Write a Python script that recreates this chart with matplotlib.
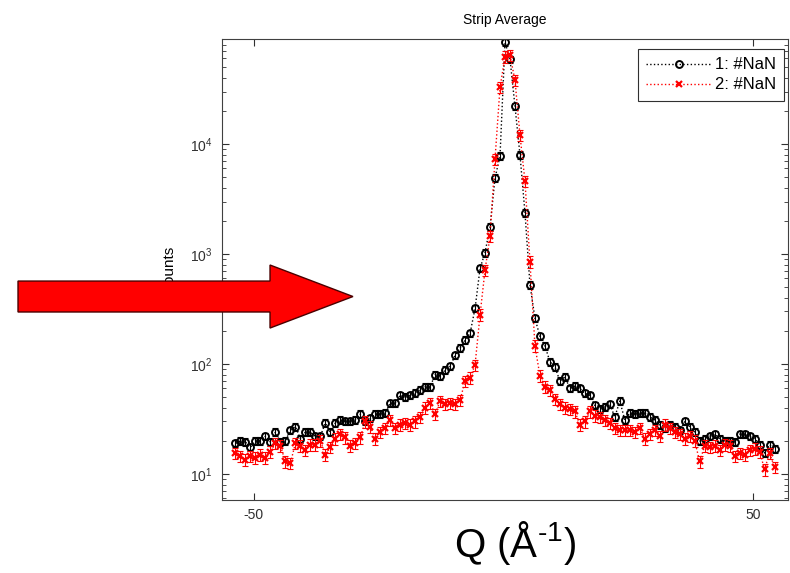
import numpy as np
import matplotlib
matplotlib.use('Agg')
import matplotlib.pyplot as plt
from matplotlib.patches import FancyArrow

plt.rcParams['font.family'] = ['Liberation Sans', 'DejaVu Sans']
plt.rcParams['mathtext.fontset'] = 'custom'
plt.rcParams['mathtext.rm'] = 'Liberation Sans'
plt.rcParams['mathtext.default'] = 'regular'
plt.rcParams['axes.unicode_minus'] = False

# Q positions (A^-1)
q = [-53.7, -52.7, -51.7, -50.7, -49.7, -48.7, -47.7, -46.7, -45.7, -44.7,
     -43.7, -42.7, -41.7, -40.7, -39.7, -38.7, -37.7, -36.7, -35.7, -34.7,
     -33.7, -32.7, -31.7, -30.7, -29.7, -28.7, -27.7, -26.7, -25.7, -24.7,
     -23.7, -22.7, -21.7, -20.7, -19.7, -18.7, -17.7, -16.7, -15.7, -14.7,
     -13.7, -12.7, -11.7, -10.7, -9.7, -8.7, -7.7, -6.7, -5.7, -4.7,
     -3.7, -2.7, -1.7, -0.7, 0.3, 1.3, 2.3, 3.3, 4.3, 5.3,
     6.3, 7.3, 8.3, 9.3, 10.3, 11.3, 12.3, 13.3, 14.3, 15.3,
     16.3, 17.3, 18.3, 19.3, 20.3, 21.3, 22.3, 23.3, 24.3, 25.3,
     26.3, 27.3, 28.3, 29.3, 30.3, 31.3, 32.3, 33.3, 34.3, 35.3,
     36.3, 37.3, 38.3, 39.3, 40.3, 41.3, 42.3, 43.3, 44.3, 45.3,
     46.3, 47.3, 48.3, 49.3, 50.3, 51.3, 52.3, 53.3, 54.3]

# series 1 (black circles)
counts1 = [19, 20, 19.5, 17.5, 20, 20, 22, 19.5, 24, 19.5,
           20, 25, 27, 21, 24, 24, 22, 22, 29, 24,
           29, 31, 30, 30, 31, 35, 30, 32, 35, 35,
           36, 44, 44, 52, 50, 52, 55, 58, 62, 62,
           80, 78, 88, 95, 120, 140, 165, 190, 320, 740,
           1030, 1770, 4900, 7800, 84000, 59000, 22000, 7950, 2370, 525,
           260, 178, 146, 105, 94, 70, 76, 60, 63, 60,
           54, 52, 42, 39, 41, 43, 33, 46, 31, 36,
           35, 36, 36, 33, 31, 28, 26, 28, 27, 25,
           30, 27, 24, 20, 21, 22, 23, 21, 20, 20,
           19.5, 23, 23, 22, 21, 18.5, 15.5, 18.5, 17]

# series 2 (red crosses)
counts2 = [15.5, 14.5, 13.5, 14.5, 14, 15, 14, 16, 19, 18,
           13, 12.5, 19, 18, 16.5, 18.5, 18.5, 20, 15, 17.5,
           21, 23, 21.5, 18, 19, 21.5, 30, 27, 21, 24,
           26, 31, 26, 28, 29, 28, 30, 33, 40, 44,
           35, 46, 43, 44, 43, 47, 70, 75, 98, 280,
           715, 1450, 7300, 32700, 62000, 64000, 38000, 12000, 4600, 850,
           146, 78, 62, 58, 48, 43, 40, 39, 37, 28,
           30, 37, 34, 33, 31, 29, 26, 25, 25, 25,
           24, 26, 21, 23, 25, 22, 28, 26, 24, 23,
           21, 22, 20, 13, 18, 17.5, 18, 16.5, 18.5, 18,
           14.5, 15.5, 15, 16.5, 17, 16, 11, 15.5, 11.5]

# approx. relative error bar half-length
rel_err1 = 0.08
rel_err2 = 0.12

labels = ['1: #NaN', '2: #NaN']

q = np.array(q)
counts1 = np.array(counts1)
counts2 = np.array(counts2)

fig = plt.figure(figsize=(7.9, 5.73), dpi=100)
ax = fig.add_axes([0.281, 0.1274, 0.7165, 0.8045])

ax.errorbar(q, counts1, yerr=counts1 * rel_err1, fmt='none', ecolor='k',
            elinewidth=0.8, capsize=2, capthick=0.8)
ax.plot(q, counts1, ':o', color='k', mfc='none', ms=5, mew=1.4, lw=1, label=labels[0])
ax.errorbar(q, counts2, yerr=counts2 * rel_err2, fmt='none', ecolor='red',
            elinewidth=0.8, capsize=2, capthick=0.8)
ax.plot(q, counts2, ':x', color='red', ms=5, mew=1.6, lw=1, label=labels[1])

ax.set_yscale('log')
ax.set_xlim(-56.4, 57.0)
ax.set_ylim(5.8, 9.0e4)
ax.set_xticks([-50, 50])
ax.tick_params(which='both', direction='in', top=True, right=True, labelsize=10,
               colors='#303030')
ax.tick_params(which='major', length=5)
ax.tick_params(which='minor', length=3)
ax.tick_params(axis='x', pad=6)
ax.tick_params(axis='y', pad=7)
for s in ax.spines.values():
    s.set_color('#404040')
    s.set_linewidth(0.8)

ax.set_title('Strip Average', fontsize=10, pad=11)
ax.set_ylabel('Counts', fontsize=11)
ax.yaxis.set_label_coords(-0.08, 0.5)

leg = ax.legend(loc='upper right', bbox_to_anchor=(0.993, 0.978), borderaxespad=0,
                fontsize=12, handlelength=3.9, handletextpad=0.2, labelspacing=0.3,
                borderpad=0.5, fancybox=False, framealpha=1, edgecolor='#303030')
leg.get_frame().set_linewidth(0.8)

# big overlay annotations
fig.text(515 / 790, 1 - 557 / 573, r'Q (Å$^{\text{-}1}$)', fontsize=29, ha='center',
         va='baseline')

arrow = FancyArrow(0.0228, 0.4825, 0.424, 0, width=0.054, head_width=0.110,
                   head_length=0.105, length_includes_head=True,
                   transform=fig.transFigure, facecolor='#ff0000',
                   edgecolor='#4a0000', linewidth=1)
fig.add_artist(arrow)

fig.savefig('out.png', dpi=100)
